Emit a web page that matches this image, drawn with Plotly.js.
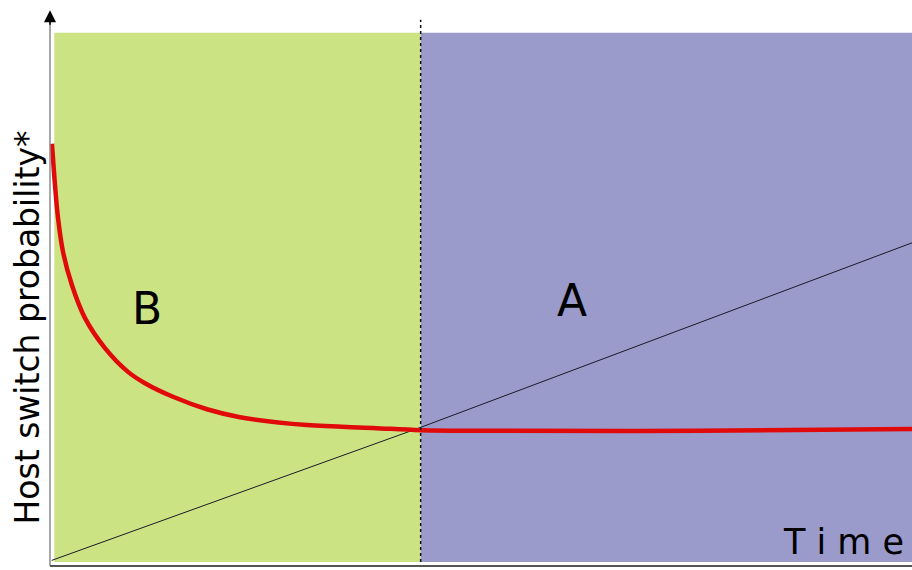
<!DOCTYPE html>
<html>
<head>
<meta charset="utf-8">
<script src="https://cdn.plot.ly/plotly-3.0.1.min.js"></script>
<style>
  html, body { margin: 0; padding: 0; background: #fff; }
  #chart { width: 912px; height: 570px; }
</style>
</head>
<body>
<div id="chart"></div>
<script>
// host switch probability over time (arbitrary units)
const timeB = [0.023, 0.058, 0.093, 0.151, 0.255, 0.406, 0.638, 0.905, 1.102, 1.427, 1.821, 2.204, 2.981, 3.747, 4.304, 5.22, 7.54, 10];
const probB = [7.46, 6.73, 6.15, 5.55, 4.96, 4.38, 3.85, 3.43, 3.23, 2.99, 2.77, 2.63, 2.49, 2.44, 2.40, 2.39, 2.39, 2.42];

const timeA = [0.02, 4.3, 10];
const probA = [0.1, 2.45, 5.71];

const switchTime = 4.3;   // boundary between regions B and A
const tEnd = 10;
const regionTop = 9.42;
const regionLabels = ['B', 'A'];
const regionLabelPos = [[1.12, 4.55], [6.05, 4.7]];

const traces = [
  {x: timeA, y: probA, mode: 'lines', line: {color: '#1a1a2a', width: 1}, hoverinfo: 'skip'},
  {x: timeB, y: probB, mode: 'lines', line: {color: '#e00a0a', width: 4.5, shape: 'spline', smoothing: 1}, hoverinfo: 'skip'}
];

const shapes = [
  {type: 'rect', xref: 'x', yref: 'y', x0: 0.05, x1: switchTime, y0: 0.07, y1: regionTop,
   fillcolor: '#cce383', line: {width: 0}, layer: 'below'},
  {type: 'rect', xref: 'x', yref: 'y', x0: switchTime, x1: tEnd + 0.2, y0: 0.07, y1: regionTop,
   fillcolor: '#9a9acb', line: {width: 0}, layer: 'below'},
  {type: 'line', xref: 'x', yref: 'y', x0: switchTime, x1: switchTime, y0: 0.07, y1: 9.65,
   line: {color: '#111', width: 1.5, dash: 'dot'}},
  {type: 'line', xref: 'x', yref: 'y', x0: 0, x1: 0, y0: 0, y1: 9.7,
   line: {color: '#8a8a8a', width: 1.5}},
  {type: 'line', xref: 'x', yref: 'y', x0: 0, x1: tEnd + 0.2, y0: 0, y1: 0,
   line: {color: '#555', width: 2}}
];

const annotations = regionLabels.map((t, i) => ({
  x: regionLabelPos[i][0], y: regionLabelPos[i][1], xref: 'x', yref: 'y', text: t,
  showarrow: false, font: {family: 'DejaVu Sans', size: 44, color: '#000'}
}));
annotations.push(
  {x: 0, y: 9.82, xref: 'x', yref: 'y', ax: 0, ay: 16, text: '', showarrow: true,
   arrowhead: 2, arrowsize: 1.6, arrowwidth: 1.5, arrowcolor: '#000'},
  {x: -0.0138, y: 0.4254, xref: 'paper', yref: 'paper', xanchor: 'center', yanchor: 'middle',
   text: 'Host switch probability*', textangle: -90, showarrow: false,
   font: {family: 'DejaVu Sans', size: 33, color: '#000'}},
  {x: 9.21, y: 0.42, xref: 'x', yref: 'y', text: 'T i m e', showarrow: false,
   font: {family: 'DejaVu Sans', size: 35, color: '#000'}}
);

const layout = {
  width: 912, height: 570,
  margin: {l: 40, r: 0, t: 0, b: 0},
  paper_bgcolor: '#fff', plot_bgcolor: '#fff',
  showlegend: false,
  xaxis: {range: [-0.116, 10], showgrid: false, zeroline: false, showticklabels: false, showline: false},
  yaxis: {range: [-0.07, 10], showgrid: false, zeroline: false, showticklabels: false, showline: false},
  shapes: shapes,
  annotations: annotations
};

Plotly.newPlot('chart', traces, layout, {displayModeBar: false, staticPlot: true});
</script>
</body>
</html>
